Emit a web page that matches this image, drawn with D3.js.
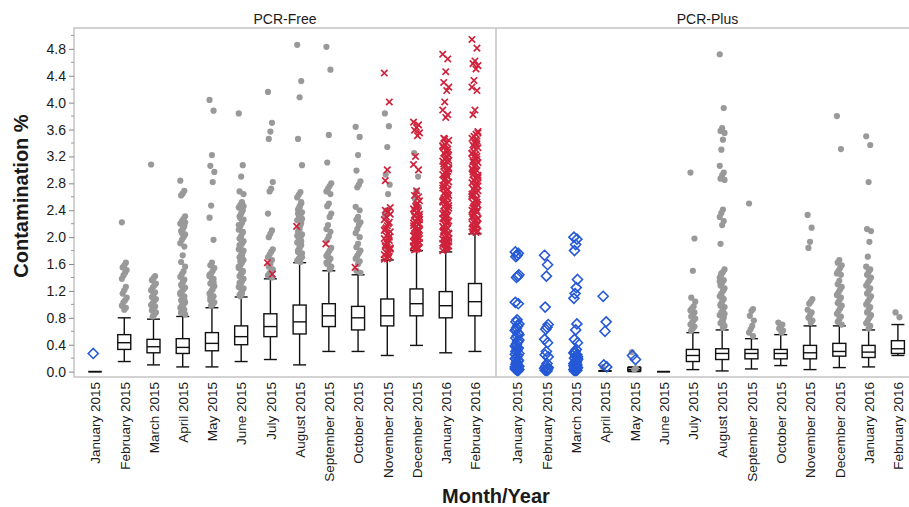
<!DOCTYPE html>
<html>
<head>
<meta charset="utf-8">
<script src="https://cdn.jsdelivr.net/npm/d3@7"></script>
<style>
  body { margin: 0; background: #fff; }
  text { font-family: "Liberation Sans", Arial, Helvetica, sans-serif; fill: #1a1a1a; }
</style>
</head>
<body>
<svg width="909" height="507"></svg>
<script>
// kategori bulan (sumbu x, sama untuk kedua panel)
const months = ["January 2015", "February 2015", "March 2015", "April 2015", "May 2015", "June 2015",
  "July 2015", "August 2015", "September 2015", "October 2015", "November 2015", "December 2015",
  "January 2016", "February 2016"];

const yTicks = [0, 0.4, 0.8, 1.2, 1.6, 2.0, 2.4, 2.8, 3.2, 3.6, 4.0, 4.4, 4.8];

// statistik boxplot PCR-Free
const freeMin = [0, 0.15, 0.10, 0.07, 0.07, 0.15, 0.18, 0.10, 0.30, 0.30, 0.24, 0.39, 0.28, 0.30];
const freeQ1  = [0, 0.33, 0.28, 0.27, 0.31, 0.40, 0.52, 0.56, 0.67, 0.62, 0.68, 0.83, 0.80, 0.83];
const freeMed = [0, 0.43, 0.37, 0.36, 0.42, 0.52, 0.67, 0.74, 0.83, 0.80, 0.83, 1.01, 0.98, 1.04];
const freeQ3  = [0, 0.55, 0.48, 0.49, 0.58, 0.68, 0.86, 0.99, 1.01, 0.97, 1.08, 1.23, 1.19, 1.31];
const freeMax = [0, 0.80, 0.78, 0.82, 0.95, 1.11, 1.38, 1.62, 1.50, 1.44, 1.66, 1.80, 1.78, 2.05];

// statistik boxplot PCR-Plus (null = tidak ada box)
const plusMin = [null, null, null, 0.01, 0.00, 0.00, 0.03, 0.01, 0.04, 0.09, 0.03, 0.06, 0.07, 0.24];
const plusQ1  = [null, null, null, 0.01, 0.01, 0.00, 0.15, 0.18, 0.19, 0.19, 0.19, 0.23, 0.21, 0.27];
const plusMed = [null, null, null, 0.01, 0.03, 0.00, 0.24, 0.27, 0.27, 0.27, 0.28, 0.30, 0.29, 0.34];
const plusQ3  = [null, null, null, 0.01, 0.06, 0.00, 0.33, 0.34, 0.33, 0.33, 0.39, 0.42, 0.39, 0.46];
const plusMax = [null, null, null, 0.01, 0.07, 0.00, 0.58, 0.62, 0.49, 0.55, 0.68, 0.68, 0.62, 0.70];

// titik-titik PCR-Free (abu-abu = bulat, merah = silang, biru = wajik)
const freeGray = [
  [],
  [2.22, 1.62, 1.58, 1.55, 1.51, 1.47, 1.43, 1.38, 1.26, 1.21, 1.16, 1.1, 1.06, 1.03, 0.98, 0.95, 0.92],
  [3.08, 1.42, 1.39, 1.36, 1.31, 1.28, 1.25, 1.21, 1.18, 1.15, 1.11, 1.08, 1.05, 1.02, 0.99, 0.97, 0.94, 0.91, 0.88, 0.85, 0.82],
  [2.84, 2.69, 2.65, 2.62, 2.31, 2.27, 2.24, 2.2, 2.17, 2.12, 2.09, 2.04, 2.0, 1.96, 1.91, 1.86, 1.73, 1.63, 1.56, 1.49, 1.45, 1.41,
   1.37, 1.33, 1.29, 1.25, 1.22, 1.19, 1.15, 1.12, 1.09, 1.06, 1.03, 1.0, 0.98, 0.95, 0.92, 0.9, 0.87, 0.85,
   1.35, 1.27, 1.17, 1.07, 0.97, 0.88, 2.22, 2.14, 2.06],
  [4.04, 3.88, 3.22, 3.06, 2.97, 2.82, 2.47, 2.29, 1.96, 1.62, 1.58, 1.54, 1.5, 1.46, 1.42, 1.38, 1.35, 1.31, 1.27, 1.23, 1.19,
   1.16, 1.12, 1.09, 1.06, 1.03, 1.0, 0.98, 1.44, 1.33, 1.21, 1.1],
  [3.84, 3.07, 2.9, 2.68, 2.64, 2.52, 2.48, 2.44, 2.4, 2.35, 2.31, 2.26, 2.21, 2.16, 2.11, 2.07, 2.02, 1.98, 1.94, 1.9, 1.86, 1.82,
   1.78, 1.74, 1.7, 1.66, 1.62, 1.58, 1.54, 1.5, 1.46, 1.42, 1.38, 1.34, 1.3, 1.26, 1.22, 1.18, 1.14,
   2.46, 2.38, 2.28, 2.18, 2.08, 1.96, 1.88, 1.8, 1.72, 1.64, 1.56, 1.48, 1.4, 1.32, 1.24, 1.16, 1.12],
  [4.16, 3.70, 3.57, 3.46, 2.82, 2.72, 2.68, 2.35, 2.1, 2.05, 2.0, 1.82, 1.78, 1.74, 1.7, 1.66, 1.6, 1.56, 1.52, 1.49, 1.46, 1.43, 1.4],
  [4.86, 4.32, 4.08, 3.46, 3.07, 2.67, 2.63, 2.59, 2.5, 2.46, 2.41, 2.37, 2.33, 2.29, 2.25, 2.21, 2.12, 2.08, 2.04, 2.0, 1.96, 1.92,
   1.88, 1.84, 1.8, 1.76, 1.72, 1.68, 1.65, 2.52, 2.44, 2.35, 2.27, 2.18, 2.1, 2.02, 1.94, 1.86, 1.78, 1.7, 1.63],
  [4.83, 4.49, 3.52, 3.11, 2.8, 2.76, 2.72, 2.68, 2.64, 2.5, 2.46, 2.35, 2.3, 2.18, 2.12, 2.08, 2.01, 1.96, 1.84, 1.8, 1.76, 1.72,
   1.68, 1.64, 1.6, 1.56, 1.52, 1.7, 1.62, 1.54],
  [3.64, 3.49, 3.22, 2.99, 2.83, 2.78, 2.74, 2.45, 2.4, 2.3, 2.26, 2.22, 2.18, 2.12, 2.06, 2.0, 1.9, 1.85, 1.8, 1.76, 1.72, 1.68,
   1.64, 1.6, 1.5, 1.47],
  [3.84, 3.65, 3.34, 2.93, 2.78, 2.64, 2.4, 2.33, 2.0, 1.93, 1.86],
  [3.25, 2.9, 2.68, 2.57, 2.45],
  [],
  []
];

const freeRed = [
  [], [], [], [], [], [],
  [1.62, 1.45],
  [2.16],
  [1.9],
  [1.55],
  [4.44, 4.01, 3.0, 2.84, 2.44, 2.38, 2.3, 2.26, 2.22, 2.17, 2.12, 2.08, 2.05, 2.02, 1.98, 1.95, 1.9, 1.88, 1.84, 1.8, 1.77,
   1.74, 1.71, 1.68, 2.4, 2.34, 2.2, 2.14, 2.1, 2.0, 1.92, 1.86, 1.82, 1.76, 1.7, 1.67],
  [3.71, 3.67, 3.63, 3.59, 3.55, 3.51, 3.2, 3.08, 3.0, 2.69, 2.62, 2.54, 2.5, 2.46, 2.42, 2.39, 2.36, 2.33, 2.3, 2.27, 2.24, 2.21,
   2.19, 2.16, 2.13, 2.1, 2.08, 2.05, 2.02, 2.0, 1.97, 1.95, 1.92, 1.9, 1.88, 1.86, 1.84, 1.82, 1.81, 2.26, 2.11, 1.99, 1.93,
   2.6, 2.48, 2.4, 2.34, 2.28, 2.23, 2.17, 2.12, 2.07, 2.03, 1.98, 1.94, 1.89, 1.85, 1.83, 2.44, 2.31, 2.2, 2.09, 1.96, 1.87],
  [4.72, 4.65, 4.46, 4.3, 4.23, 4.18, 4.01, 3.89, 3.82, 3.78, 3.47, 3.44, 3.4, 3.38, 3.35, 3.31, 3.29, 3.25, 3.22, 3.2, 3.16,
   3.13, 3.11, 3.07, 3.05, 3.01, 2.98, 2.96, 2.93, 2.9, 2.87, 2.84, 2.82, 2.79, 2.76, 2.73, 2.7, 2.68, 2.65, 2.62, 2.6, 2.57,
   2.54, 2.51, 2.49, 2.46, 2.43, 2.4, 2.38, 2.35, 2.32, 2.3, 2.27, 2.24, 2.21, 2.19, 2.16, 2.13, 2.11, 2.08, 2.05, 2.03, 2.0,
   1.97, 1.95, 1.92, 1.9, 1.87, 1.85, 1.82, 1.8, 2.58, 2.33, 2.14, 1.98, 1.88,
   3.46, 3.36, 3.27, 3.18, 3.09, 3.03, 2.94, 2.86, 2.77, 2.71, 2.63, 2.55, 2.47, 2.41, 2.36, 2.28, 2.22, 2.17, 2.1, 2.06,
   2.01, 1.96, 1.91, 1.86, 1.83, 3.33, 3.14, 2.91, 2.74, 2.52, 2.44, 2.25, 2.07, 1.93, 1.84],
  [4.94, 4.81, 4.62, 4.58, 4.55, 4.5, 4.33, 4.23, 4.18, 3.89, 3.82, 3.57, 3.53, 3.5, 3.47, 3.43, 3.4, 3.37, 3.33, 3.3, 3.27,
   3.24, 3.2, 3.18, 3.14, 3.11, 3.08, 3.05, 3.02, 2.99, 2.96, 2.93, 2.9, 2.87, 2.84, 2.81, 2.78, 2.75, 2.72, 2.69, 2.66, 2.63,
   2.6, 2.57, 2.54, 2.51, 2.48, 2.45, 2.42, 2.4, 2.37, 2.34, 2.31, 2.28, 2.25, 2.22, 2.2, 2.17, 2.14, 2.12, 2.09, 2.07, 2.85,
   2.64, 2.39, 2.24, 2.15,
   3.55, 3.45, 3.35, 3.25, 3.16, 3.06, 2.97, 2.88, 2.8, 2.7, 2.61, 2.52, 2.43, 2.35, 2.27, 2.18, 2.1, 2.08, 3.39, 3.22, 3.0,
   2.76, 2.56, 2.46, 2.3, 2.19, 2.11, 3.12, 2.92, 2.67]
];

const freeBlue = [[0.27], [], [], [], [], [], [], [], [], [], [], [], [], []];

// titik-titik PCR-Plus
const plusGray = [
  [], [0.05], [], [0.07], [0.29, 0.05, 0.03], [],
  [2.96, 1.98, 1.50, 1.10, 1.04, 0.97, 0.94, 0.91, 0.88, 0.85, 0.82, 0.79, 0.76, 0.73, 0.7, 0.67, 0.64, 0.61],
  [4.72, 3.92, 3.62, 3.58, 3.55, 3.45, 3.3, 3.06, 2.96, 2.92, 2.87, 2.85, 2.41, 2.36, 2.3, 2.24, 2.18, 1.9, 1.52, 1.48, 1.44,
   1.4, 1.36, 1.32, 1.28, 1.24, 1.2, 1.16, 1.12, 1.08, 1.04, 1.0, 0.96, 0.92, 0.88, 0.84, 0.8, 0.76, 0.72, 0.68, 0.65,
   1.46, 1.34, 1.22, 1.1, 0.98, 0.86, 0.74],
  [2.5, 0.93, 0.9, 0.83, 0.76, 0.68, 0.63, 0.58, 0.53],
  [0.73, 0.7, 0.67, 0.64, 0.61, 0.58],
  [2.33, 2.14, 1.93, 1.84, 1.08, 1.04, 1.01, 0.92, 0.88, 0.84, 0.8, 0.76, 0.73],
  [3.80, 3.31, 1.66, 1.62, 1.58, 1.54, 1.5, 1.46, 1.44, 1.35, 1.3, 1.26, 1.22, 1.18, 1.14, 1.1, 1.06, 1.02, 0.98, 0.94, 0.9,
   0.86, 0.82, 0.78, 0.74, 0.7],
  [3.50, 3.37, 2.82, 2.12, 2.09, 1.93, 1.71, 1.56, 1.52, 1.48, 1.44, 1.4, 1.36, 1.32, 1.28, 1.24, 1.2, 1.16, 1.12, 1.08, 1.04,
   1.0, 0.96, 0.92, 0.88, 0.84, 0.8, 0.76, 0.72, 0.68, 0.64],
  [0.88, 0.81]
];

const plusRed = [[], [], [], [], [], [], [], [], [], [], [], [], [], []];

const plusBlue = [
  [1.78, 1.76, 1.73, 1.71, 1.44, 1.42, 1.4, 1.03, 1.01, 0.77, 0.74, 0.71, 0.68, 0.65, 0.61, 0.57, 0.53, 0.5, 0.47, 0.44, 0.41,
   0.38, 0.35, 0.32, 0.3, 0.27, 0.24, 0.21, 0.19, 0.16, 0.13, 0.11, 0.08, 0.06, 0.05, 0.04, 0.03, 0.02,
   0.62, 0.55, 0.45, 0.36, 0.26, 0.17, 0.09, 0.05, 0.03, 0.01, 0.14, 0.07],
  [1.73, 1.59, 1.42, 0.96, 0.7, 0.66, 0.63, 0.48, 0.43, 0.3, 0.25, 0.22, 0.12, 0.08, 0.05, 0.04, 0.03, 0.02, 0.06, 0.01],
  [2.0, 1.97, 1.89, 1.8, 1.37, 1.25, 1.16, 1.09, 0.71, 0.62, 0.48, 0.43, 0.33, 0.3, 0.28, 0.25, 0.23, 0.2, 0.18, 0.16, 0.14,
   0.12, 0.1, 0.08, 0.07, 0.06, 0.05, 0.04, 0.03, 0.02, 0.01, 0.27, 0.22, 0.15, 0.11, 0.09, 0.05, 0.03, 0.01, 0.19, 0.13],
  [1.12, 0.74, 0.6, 0.1, 0.07],
  [0.24, 0.18],
  [], [], [], [], [], [], [], [], []
];

// ukuran area plot
const plotLeft = 74, plotMid = 496, plotRight = 919, plotTop = 28, plotBottom = 377;

const svg = d3.select("svg");

const y = d3.scaleLinear().domain([-0.08, 5.11]).range([plotBottom, plotTop]);

// jitter kecil supaya titik tidak bertumpuk persis
const jitter = (i, w) => ((i * 5) % 7 - 3) * w;

function drawPanel(x0, x1, title, mins, q1s, meds, q3s, maxs, gray, red, blue) {
    const x = d3.scalePoint().domain(months).range([x0, x1]).padding(0.72);
    const g = svg.append("g");
    const bw = 13;

    // judul panel
    svg.append("text")
        .attr("x", (x0 + x1) / 2)
        .attr("y", 24)
        .attr("text-anchor", "middle")
        .style("font-size", "14px")
        .text(title);

    // boxplot
    months.forEach((m, i) => {
        if (meds[i] === null) return;
        const cx = x(m);
        g.append("line").attr("x1", cx).attr("x2", cx)
            .attr("y1", y(maxs[i])).attr("y2", y(q3s[i]))
            .attr("stroke", "#111").attr("stroke-width", 1.4);
        g.append("line").attr("x1", cx).attr("x2", cx)
            .attr("y1", y(q1s[i])).attr("y2", y(mins[i]))
            .attr("stroke", "#111").attr("stroke-width", 1.4);
        [mins[i], maxs[i]].forEach(v => {
            g.append("line").attr("x1", cx - bw / 2).attr("x2", cx + bw / 2)
                .attr("y1", y(v)).attr("y2", y(v))
                .attr("stroke", "#111").attr("stroke-width", 1.4);
        });
        g.append("rect")
            .attr("x", cx - bw / 2).attr("width", bw)
            .attr("y", y(q3s[i])).attr("height", Math.max(0, y(q1s[i]) - y(q3s[i])))
            .attr("fill", "#fff").attr("stroke", "#111").attr("stroke-width", 1.4);
        g.append("line").attr("x1", cx - bw / 2).attr("x2", cx + bw / 2)
            .attr("y1", y(meds[i])).attr("y2", y(meds[i]))
            .attr("stroke", "#111").attr("stroke-width", 1.4);
    });

    // titik abu-abu
    months.forEach((m, i) => {
        g.selectAll(null).data(gray[i]).enter().append("circle")
            .attr("cx", (d, j) => x(m) + jitter(j, 0.8))
            .attr("cy", d => y(d))
            .attr("r", 3.1)
            .attr("fill", "#999");
    });

    // silang merah
    months.forEach((m, i) => {
        const s = 3.2;
        g.selectAll(null).data(red[i]).enter().append("path")
            .attr("transform", (d, j) => `translate(${x(m) + jitter(j, 1.0)},${y(d)})`)
            .attr("d", `M${-s},${-s}L${s},${s}M${-s},${s}L${s},${-s}`)
            .attr("stroke", "#d0223c")
            .attr("stroke-width", 1.7)
            .attr("fill", "none");
    });

    // wajik biru
    months.forEach((m, i) => {
        const s = 5;
        g.selectAll(null).data(blue[i]).enter().append("path")
            .attr("transform", (d, j) => `translate(${x(m) + jitter(j, 0.6)},${y(d)})`)
            .attr("d", `M0,${-s}L${s},0L0,${s}L${-s},0Z`)
            .attr("stroke", "#2559d6")
            .attr("stroke-width", 1.6)
            .attr("fill", "none");
    });

    // label bulan diputar
    const ax = svg.append("g")
        .attr("transform", `translate(0,${plotBottom})`)
        .call(d3.axisBottom(x).tickSize(0).tickPadding(0));
    ax.select(".domain").remove();
    ax.selectAll("text")
        .attr("transform", "rotate(-90)")
        .attr("x", -5)
        .attr("y", 0)
        .attr("dy", "0.35em")
        .attr("text-anchor", "end")
        .style("font-size", "13.5px")
        .style("font-family", "'Liberation Sans', Arial, sans-serif")
        .attr("fill", "#1a1a1a");
}

drawPanel(plotLeft, plotMid, "PCR-Free", freeMin, freeQ1, freeMed, freeQ3, freeMax, freeGray, freeRed, freeBlue);
drawPanel(plotMid, plotRight, "PCR-Plus", plusMin, plusQ1, plusMed, plusQ3, plusMax, plusGray, plusRed, plusBlue);

// bingkai plot
svg.append("rect")
    .attr("x", plotLeft).attr("y", plotTop)
    .attr("width", plotRight - plotLeft).attr("height", plotBottom - plotTop)
    .attr("fill", "none").attr("stroke", "#c4c4c4").attr("stroke-width", 1.5);
svg.append("line")
    .attr("x1", plotMid).attr("x2", plotMid).attr("y1", plotTop).attr("y2", plotBottom)
    .attr("stroke", "#c4c4c4").attr("stroke-width", 1.5);

// sumbu y dengan tick minor
const yAxis = svg.append("g")
    .attr("transform", `translate(${plotLeft},0)`)
    .call(d3.axisLeft(y).tickValues(yTicks).tickFormat(d3.format(".1f")).tickSize(5).tickPadding(3));
yAxis.select(".domain").remove();
yAxis.selectAll("line").attr("stroke", "#888");
yAxis.selectAll("text").style("font-size", "14px").attr("fill", "#1a1a1a")
    .style("font-family", "'Liberation Sans', Arial, sans-serif");

const minorTicks = [0.2, 0.6, 1.0, 1.4, 1.8, 2.2, 2.6, 3.0, 3.4, 3.8, 4.2, 4.6, 5.0];
svg.append("g").selectAll("line").data(minorTicks).enter().append("line")
    .attr("x1", plotLeft - 3).attr("x2", plotLeft)
    .attr("y1", d => y(d)).attr("y2", d => y(d))
    .attr("stroke", "#999");

// judul sumbu
svg.append("text")
    .attr("transform", "translate(28,196) rotate(-90)")
    .attr("text-anchor", "middle")
    .style("font-size", "20px")
    .style("font-weight", "bold")
    .text("Contamination %");

svg.append("text")
    .attr("x", 496)
    .attr("y", 503)
    .attr("text-anchor", "middle")
    .style("font-size", "20px")
    .style("font-weight", "bold")
    .text("Month/Year");
</script>
</body>
</html>
